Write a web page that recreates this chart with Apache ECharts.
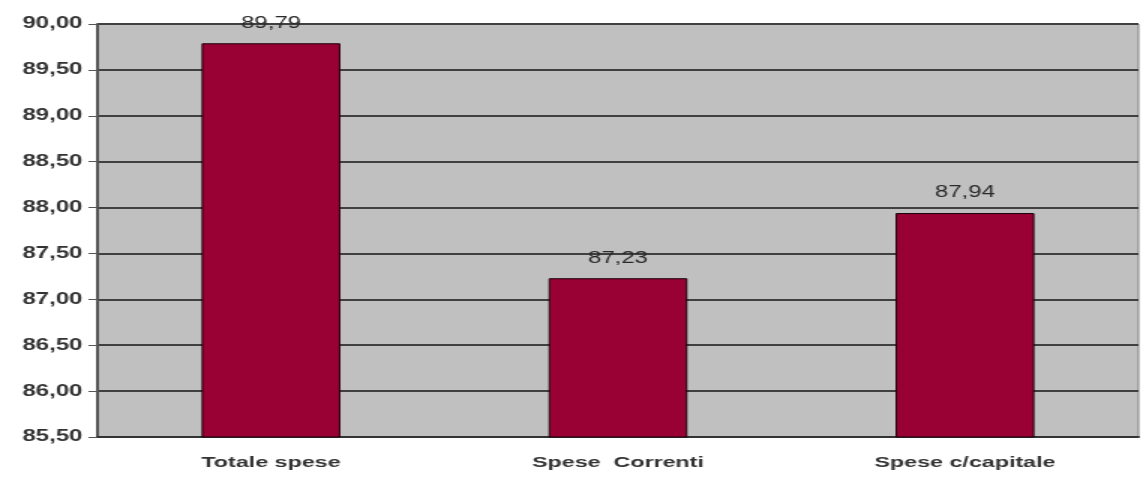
<!DOCTYPE html>
<html>
<head>
<meta charset="utf-8">
<script src="https://cdn.jsdelivr.net/npm/echarts@6/dist/echarts.min.js"></script>
<style>
  html, body { margin: 0; padding: 0; background: #ffffff; overflow: hidden; }
  /* The chart is laid out at 2/3 width and widened, giving the broad lettering */
  #chart { width: 761px; height: 478px; transform: scaleX(1.5); transform-origin: 0 0; filter: blur(0.5px); }
</style>
</head>
<body>
<div id="chart"></div>
<script>
const categories = ['Totale spese', 'Spese  Correnti', 'Spese c/capitale'];
const values = [89.79, 87.23, 87.94];
const yMin = 85.5;
const yMax = 90;
const yStep = 0.5;

const fmt = (v, d) => Number(v).toFixed(d).replace('.', ',');

const font = 'Liberation Sans, Arial, sans-serif';

const chart = echarts.init(document.getElementById('chart'));
chart.setOption({
  animation: false,
  grid: {
    left: 65, right: 2, top: 24, bottom: 41,
    show: true,
    backgroundColor: '#c0c0c0',
    borderColor: '#808080',
    borderWidth: 1
  },
  xAxis: {
    type: 'category',
    data: categories,
    axisLine: { show: true, lineStyle: { color: '#333333', width: 2 } },
    axisTick: { show: false },
    axisLabel: {
      color: '#333333',
      fontFamily: font,
      fontWeight: 'bold',
      fontSize: 15.5,
      margin: 18
    }
  },
  yAxis: {
    type: 'value',
    min: yMin,
    max: yMax,
    interval: yStep,
    axisLine: { show: true, lineStyle: { color: '#555555', width: 2 } },
    axisTick: { show: true, length: 6, lineStyle: { color: '#555555', width: 1 } },
    axisLabel: {
      color: '#333333',
      fontFamily: font,
      fontWeight: 'bold',
      fontSize: 16,
      margin: 10,
      formatter: v => fmt(v, 2)
    },
    splitLine: { show: true, lineStyle: { color: '#404040', width: 2 } }
  },
  series: [{
    type: 'bar',
    data: values,
    barWidth: '40%',
    itemStyle: { color: '#990033', borderColor: '#1a0008', borderWidth: 1 },
    label: {
      show: true,
      position: 'top',
      distance: 12,
      color: '#2a2a2a',
      fontFamily: font,
      fontSize: 16,
      formatter: p => fmt(p.value, 2)
    }
  }]
});
</script>
</body>
</html>
